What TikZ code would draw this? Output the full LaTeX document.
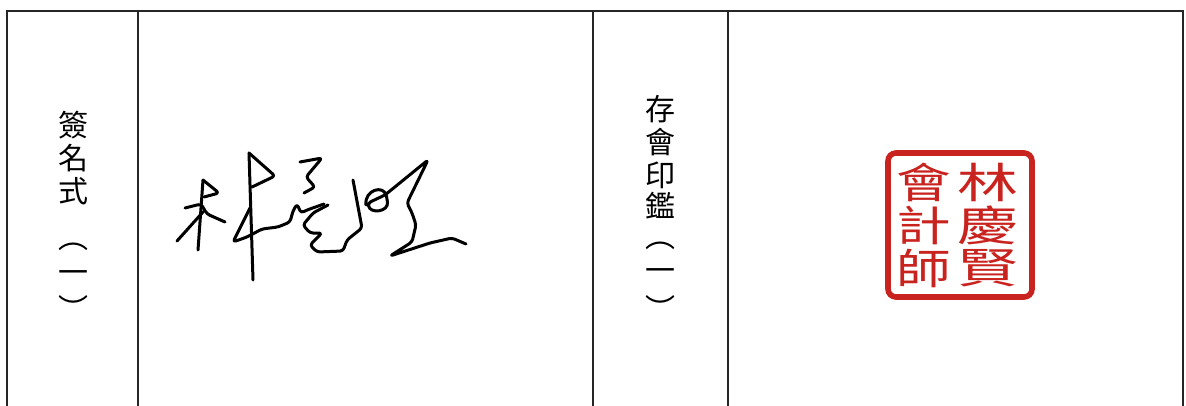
\documentclass[tikz,border=0pt]{standalone}
\usepackage{fontspec}
\newfontfamily\cjk{Noto Sans CJK TC}
\usetikzlibrary{positioning}
\definecolor{sealred}{RGB}{200,35,30}
\begin{document}
\begin{tikzpicture}[x=0.5pt,y=-0.5pt,
  rule/.style={line width=1.2pt, draw=black!85},
  lbl/.style={inner sep=0pt, font=\cjk\fontsize{15}{15}\selectfont},
  pen/.style={line width=1.5pt, line cap=round, line join=round, rounded corners=1.5pt},
  sealch/.style={inner sep=0pt, text=sealred, font=\cjk\fontsize{21}{21}\selectfont}]
\useasboundingbox (0,0) rectangle (1186,406);
\draw[rule] (7,406) |- (1183,11) -- (1183,406);
\foreach \x in {138,593,728} \draw[rule] (\x,11) -- (\x,406);

\foreach \c/\y [count=\i] in {簽/125,名/158,式/191,︵/247,一/277,︶/308}
  \node[lbl] (sign\i) at (73,\y) {\c};
\foreach \c/\y [count=\i] in {存/109,會/142,印/175,鑑/206,︵/246,一/275,︶/308}
  \node[lbl] (stamp\i) at (660,\y) {\c};

% signature
\draw[pen] (203,180) -- (198,250);
\draw[pen] (203,180) -- (219,193) -- (204,197);
\draw[pen] (185,208) -- (201,204) -- (207,214) -- (225,222);
\draw[pen] (203,212) -- (177,241);
\draw[pen] (249,153) -- (253,280);
\draw[pen] (249,153) -- (275,176) -- (252,187);
\draw[pen] (250,208) -- (233,242) -- (247,237) -- (262,229) -- (278,227) -- (290,222) -- (293,211) -- (297,204) -- (301,213) -- (307,210) -- (324,204);
\draw[pen] (300,162) -- (322,158) -- (306,177) -- (315,187) -- (304,193);
\draw[pen] (328,205) -- (313,213) -- (303,225) -- (310,233) -- (322,233) -- (310,245) -- (317,252) -- (343,251) -- (347,240) -- (362,228) -- (353,180);
\draw[pen] (366,205) .. controls (364,190) and (384,184) .. (387,199) .. controls (389,212) and (370,214) .. (368,203) -- (385,195) -- (428,160) -- (407,203) -- (412,213) -- (416,225) -- (412,242) -- (390,256) -- (430,243) -- (452,238) -- (466,244);

% seal
\draw[sealred, line width=2.8pt, rounded corners=4pt] (888,153) rectangle (1032,297);
\foreach \c/\y [count=\i] in {會/182,計/225,師/268}
  \node[sealch] (sealL\i) at (924,\y) {\scalebox{1.3}[1]{\c}};
\foreach \c/\y [count=\i] in {林/182,慶/225,賢/268}
  \node[sealch] (sealR\i) at (988,\y) {\scalebox{1.45}[1]{\c}};
\end{tikzpicture}
\end{document}
